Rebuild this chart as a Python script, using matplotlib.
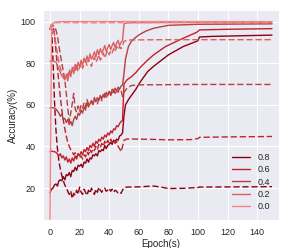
import numpy as np
import matplotlib
matplotlib.use("Agg")
import matplotlib.pyplot as plt
import seaborn as sns

# dropout rates and their colours
RATES = ["0.8", "0.6", "0.4", "0.2", "0.0"]
COLORS = ["#8E0010", "#C0222A", "#B5403F", "#DA6060", "#F08585"]

EARLY = np.arange(50)  # epochs 0..49 (before lr decay)

# train (solid) / test (dashed) accuracy, epochs 0..49
s08_early = [17.8, 19.5, 20.0, 21.5, 22.0, 21.0, 23.5, 24.0, 23.5, 25.5,
             24.0, 26.5, 26.0, 27.5, 25.5, 28.5, 28.0, 30.0, 28.5, 31.0,
             30.5, 31.5, 30.0, 32.5, 32.0, 34.0, 32.5, 34.5, 34.0, 36.0,
             35.5, 36.5, 35.5, 38.0, 37.5, 38.5, 38.0, 40.5, 39.0, 40.5,
             41.0, 42.0, 41.0, 43.0, 42.5, 43.5, 43.0, 45.0, 45.5, 46.5]
d08_early = [96.0, 98.5, 82.0, 62.0, 48.0, 39.0, 33.0, 29.0, 26.0, 23.5,
             21.5, 20.0, 18.5, 17.0, 18.5, 15.0, 17.5, 16.5, 19.0, 17.0,
             20.5, 18.0, 17.0, 19.5, 18.0, 16.5, 19.0, 17.5, 20.0, 18.5,
             17.0, 19.5, 18.0, 20.5, 19.0, 18.0, 19.5, 20.0, 18.5, 19.0,
             20.0, 18.5, 19.5, 18.0, 19.0, 18.5, 17.5, 18.0, 17.5, 19.0]
s06_early = [37.5, 37.8, 37.6, 37.5, 37.2, 36.5, 35.5, 36.5, 34.5, 35.5,
             33.5, 35.0, 32.5, 34.0, 32.0, 34.5, 33.0, 35.5, 34.0, 36.5,
             35.5, 37.5, 36.0, 38.5, 37.5, 39.5, 38.0, 40.5, 39.5, 41.5,
             40.0, 42.5, 41.5, 43.5, 42.5, 44.5, 43.5, 45.5, 44.5, 46.5,
             45.5, 47.5, 46.5, 48.5, 48.0, 50.0, 49.5, 51.0, 52.0, 52.5]
d06_early = [96.0, 98.0, 98.3, 94.0, 86.0, 78.0, 70.5, 63.5, 57.5, 52.5,
             48.5, 45.0, 42.0, 40.0, 38.5, 37.5, 36.0, 37.0, 35.0, 36.5,
             34.5, 35.5, 34.0, 36.0, 35.0, 37.5, 36.0, 38.5, 37.0, 39.0,
             38.0, 40.0, 38.5, 41.0, 39.5, 41.5, 40.0, 42.5, 41.0, 43.0,
             41.5, 43.5, 42.0, 43.0, 41.5, 42.5, 40.0, 39.0, 37.5, 40.0]
s04_early = [58.5, 58.7, 58.5, 58.5, 58.0, 57.0, 56.0, 54.5, 55.5, 53.0,
             53.5, 51.5, 53.0, 50.5, 52.0, 50.0, 53.0, 54.5, 53.0, 56.0,
             55.0, 57.5, 56.0, 59.0, 57.5, 61.0, 59.0, 60.5, 62.0, 60.0,
             62.5, 61.5, 63.5, 62.0, 64.5, 63.0, 65.0, 63.5, 66.0, 64.5,
             66.5, 65.0, 67.5, 66.0, 68.0, 66.5, 68.5, 67.5, 69.0, 69.5]
d04_early = [96.0, 97.5, 98.0, 97.5, 96.0, 93.0, 88.5, 84.0, 80.0, 76.0,
             72.0, 65.5, 58.5, 52.0, 56.0, 60.5, 65.5, 58.0, 56.5, 59.5,
             57.0, 60.0, 58.5, 61.0, 59.0, 62.5, 60.5, 59.5, 62.0, 61.0,
             63.5, 61.5, 60.5, 63.0, 64.5, 62.0, 64.0, 65.5, 63.5, 65.0,
             66.5, 64.5, 66.0, 67.5, 65.5, 67.0, 66.0, 68.0, 67.0, 64.0]
s02_early = [81.0, 81.2, 81.0, 80.8, 80.5, 79.0, 77.0, 75.5, 74.0, 73.0,
             72.0, 74.5, 71.5, 76.0, 73.5, 78.0, 75.0, 79.5, 77.0, 80.5,
             78.0, 81.5, 79.0, 82.5, 80.5, 83.5, 81.0, 84.5, 82.0, 83.5,
             85.5, 83.0, 86.5, 84.0, 87.0, 85.0, 86.5, 88.5, 85.5, 87.5,
             89.0, 86.5, 88.5, 90.0, 87.5, 89.5, 91.0, 88.5, 90.0, 91.0]
d02_early = [97.0, 98.5, 97.5, 94.0, 89.0, 84.5, 80.5, 77.5, 75.5, 74.0,
             73.0, 75.0, 74.0, 77.0, 75.5, 76.5, 78.0, 76.5, 79.0, 76.0,
             78.0, 80.0, 77.5, 79.5, 81.0, 79.0, 82.0, 80.0, 78.5, 81.0,
             83.0, 80.5, 82.0, 84.0, 81.5, 83.0, 85.0, 82.5, 84.5, 86.0,
             84.0, 86.0, 85.0, 87.0, 85.5, 88.0, 86.5, 88.0, 87.0, 88.5]

# after the lr decay (epoch 50 on), smooth curves given at a few epochs
s08_late_x = [50, 51, 53, 55, 58, 61, 66, 70, 80, 90, 99, 100, 101, 110, 130, 150]
s08_late = [55, 60, 62.5, 64.5, 67.5, 71, 76, 78.5, 84, 88, 90.5, 90.8, 92.6, 92.9, 93.2, 93.5]
d08_late_x = [50, 52, 60, 70, 75, 80, 90, 100, 101, 150]
d08_late = [20.3, 20.5, 20.6, 21.0, 20.5, 19.8, 19.9, 20.3, 20.5, 20.7]
s06_late_x = [50, 52, 55, 58, 61, 66, 70, 78, 90, 99, 100, 101, 120, 150]
s06_late = [70, 72, 73.5, 75.5, 78, 81.5, 84, 88, 92, 94.8, 95.3, 96.0, 96.3, 96.6]
d06_late_x = [50, 52, 55, 70, 80, 95, 100, 101, 120, 150]
d06_late = [43.0, 43.6, 43.6, 43.4, 43.2, 43.3, 43.8, 44.4, 44.6, 44.8]
s04_late_x = [50, 51, 53, 55, 58, 61, 65, 70, 80, 100, 150]
s04_late = [75, 82, 88, 90.5, 92.5, 94, 95.5, 96.8, 98.2, 98.7, 98.9]
d04_late_x = [50, 52, 55, 60, 80, 100, 150]
d04_late = [66.0, 68.0, 69.3, 69.6, 69.7, 69.8, 69.8]
s02_late_x = [50, 51, 53, 56, 60, 80, 100, 150]
s02_late = [98.8, 99.2, 99.4, 99.5, 99.5, 99.6, 99.6, 99.6]
d02_late_x = [50, 52, 55, 80, 100, 150]
d02_late = [90.5, 91.0, 91.2, 91.3, 91.3, 91.3]

# no dropout: converges right away
s00_x = [0, 1, 2, 3, 4, 6, 10, 20, 50, 100, 150]
s00 = [5, 98.5, 99.3, 99.6, 99.8, 99.9, 100, 100, 100, 100, 100]
d00_x = [0, 1, 2, 3, 5, 10, 30, 50, 100, 150]
d00 = [96, 98.5, 99.2, 99.4, 99.5, 99.5, 99.4, 99.5, 99.5, 99.5]

sns.set_style("darkgrid")
plt.rcParams['font.family'] = ['Liberation Sans', 'DejaVu Sans']

fig = plt.figure(figsize=(2.91, 2.48), dpi=100)
ax = fig.add_axes([0.148, 0.113, 0.811, 0.847])


def join(x_early, y_early, x_late, y_late):
    return list(x_early) + list(x_late), list(y_early) + list(y_late)


series = [
    (join(EARLY, s08_early, s08_late_x, s08_late), join(EARLY, d08_early, d08_late_x, d08_late)),
    (join(EARLY, s06_early, s06_late_x, s06_late), join(EARLY, d06_early, d06_late_x, d06_late)),
    (join(EARLY, s04_early, s04_late_x, s04_late), join(EARLY, d04_early, d04_late_x, d04_late)),
    (join(EARLY, s02_early, s02_late_x, s02_late), join(EARLY, d02_early, d02_late_x, d02_late)),
    ((s00_x, s00), (d00_x, d00)),
]

lw = 1.0
for rate, color, (train, test) in zip(RATES, COLORS, series):
    ax.plot(train[0], train[1], color=color, lw=lw, label=rate)
    ax.plot(test[0], test[1], color=color, lw=lw, ls='--', dashes=(4.5, 2))

ax.set_xlim(-4.7, 154.8)
ax.set_ylim(4.7, 105.6)
ax.set_xticks(range(0, 141, 20))
ax.set_yticks(range(20, 101, 20))
ax.tick_params(labelsize=6.5, pad=2)
ax.set_xlabel("Epoch(s)", fontsize=7, labelpad=2)
ax.set_ylabel("Accuracy(%)", fontsize=7, labelpad=2)

ax.legend(loc='lower right', fontsize=6.5, frameon=False, handlelength=2.0,
          labelspacing=0.35, borderaxespad=0.6)

fig.savefig("out.png", dpi=100)
